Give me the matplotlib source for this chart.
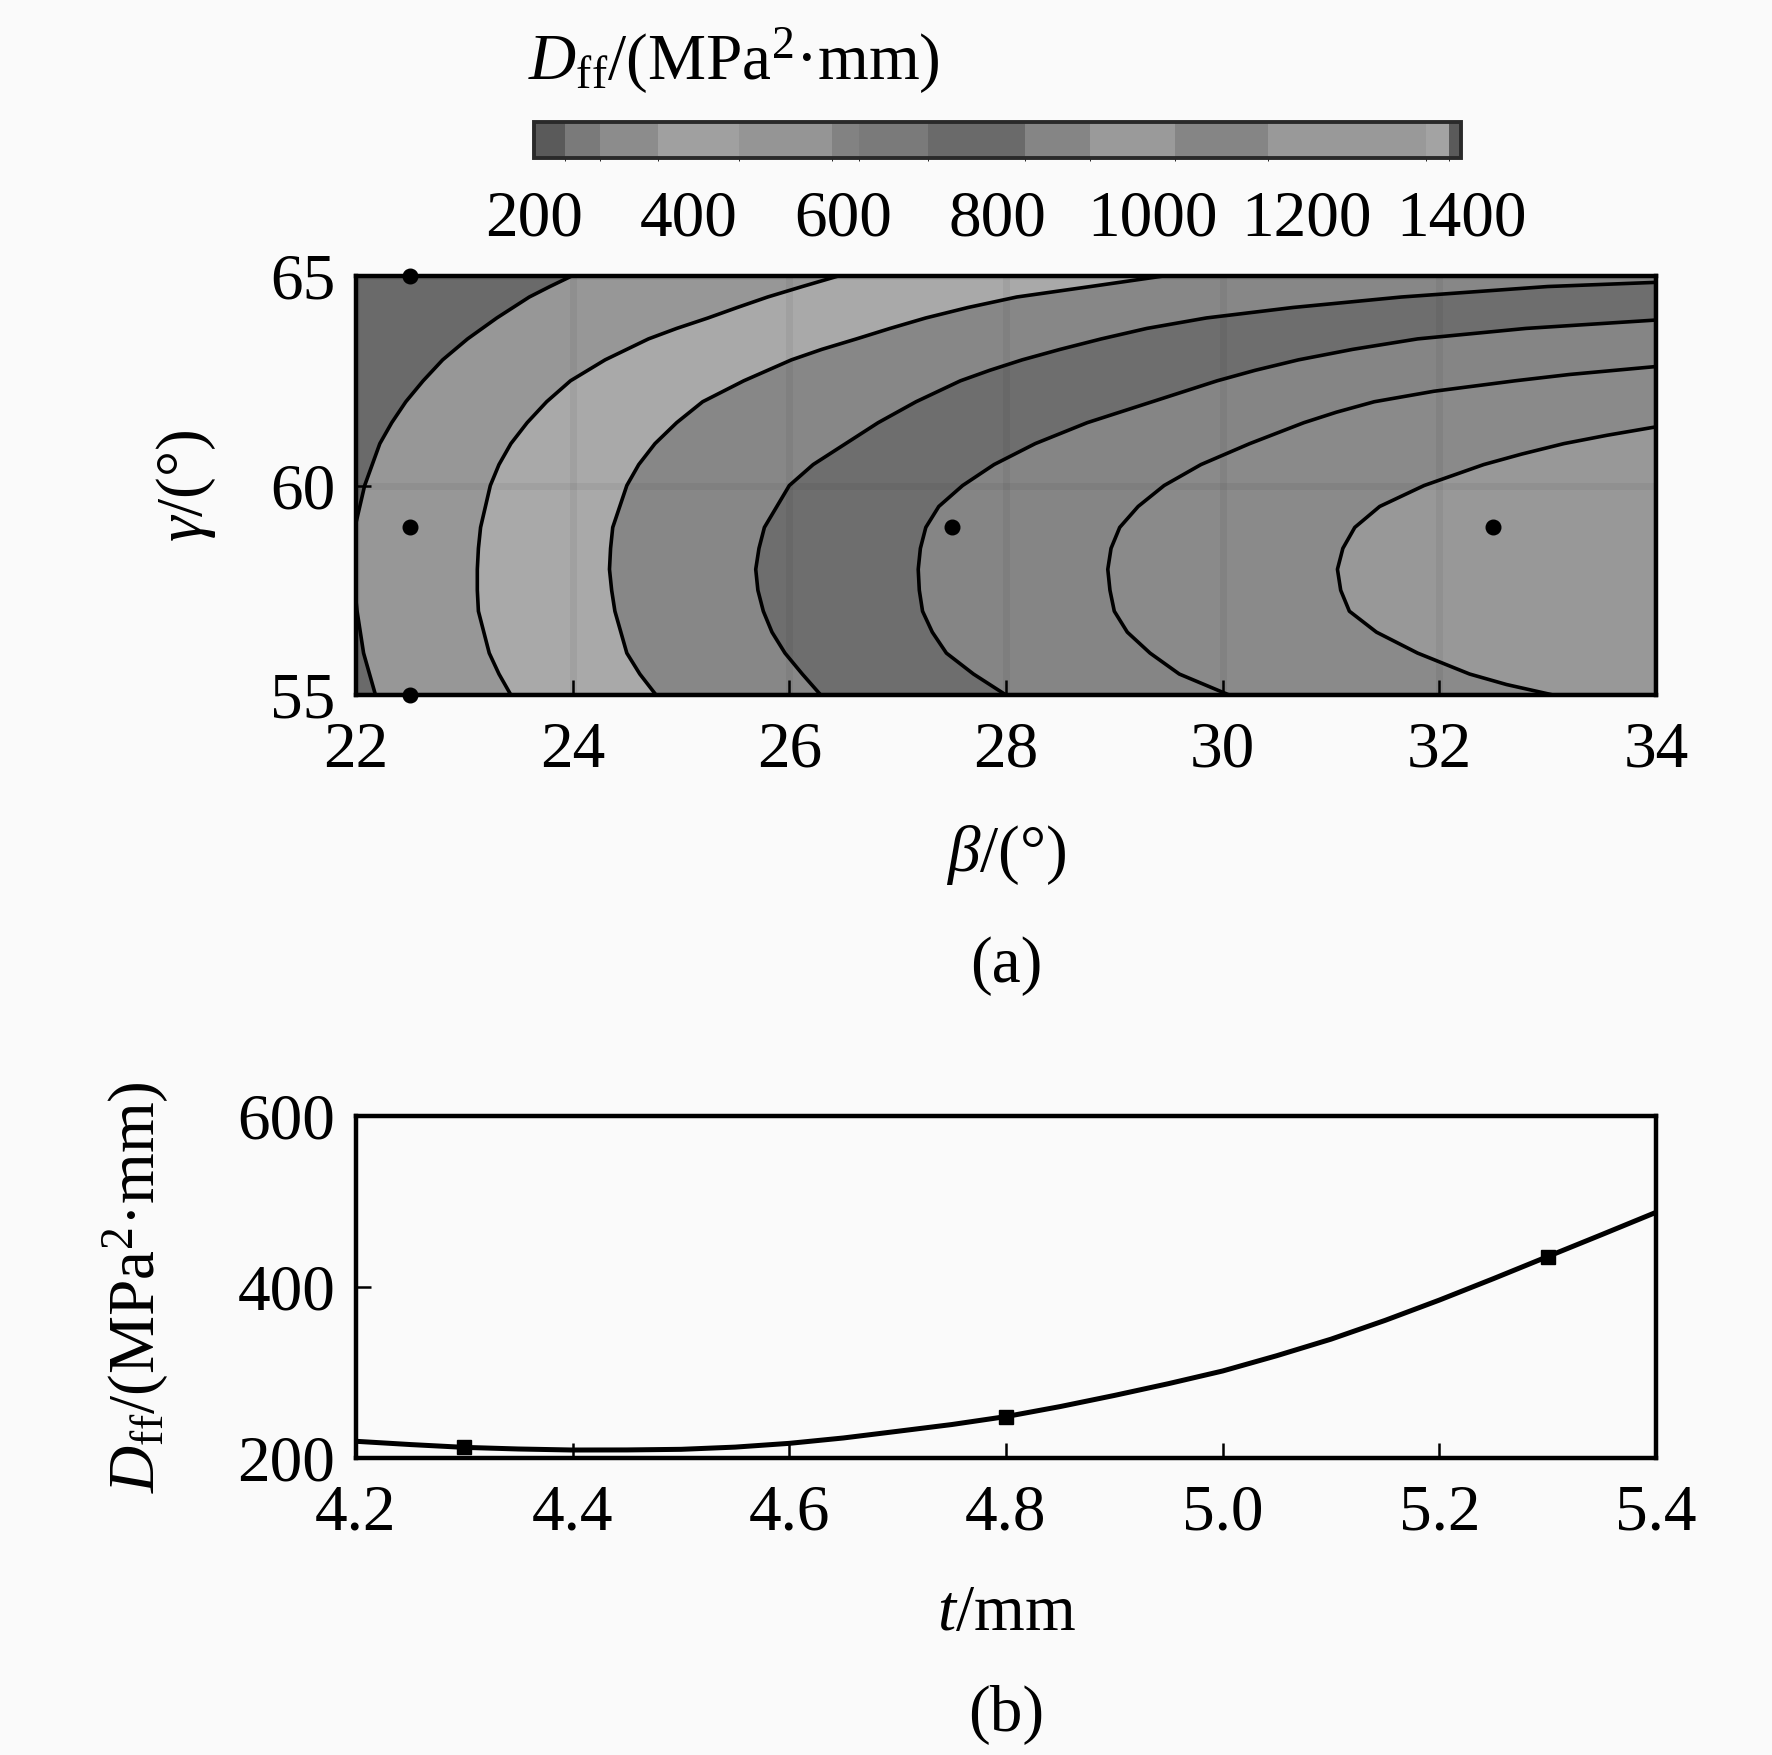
import matplotlib
matplotlib.use("Agg")
import matplotlib.pyplot as plt
from matplotlib.colors import ListedColormap, BoundaryNorm
from matplotlib.cm import ScalarMappable

plt.rcParams["font.family"] = "Liberation Serif"
plt.rcParams["mathtext.fontset"] = "custom"
plt.rcParams["mathtext.rm"] = "Liberation Serif"
plt.rcParams["mathtext.it"] = "Liberation Serif:italic"
plt.rcParams["mathtext.bf"] = "Liberation Serif:bold"

# ---- (a) contour lines of D_ff: beta at given gamma ----
a_gamma = [55, 56, 57, 57.5, 58, 58.5, 59, 60, 61, 61.5, 62, 62.5, 63, 63.5, 64, 64.25, 64.5, 64.75, 65]
a_beta = [22.18, 22.07, 22.01, 21.99, 21.98, 21.98, 21.99, 22.08, 22.22, 22.33, 22.46, 22.62, 22.80,
          23.03, 23.30, 23.45, 23.60, 23.79, 23.99]

b_gamma = [55, 55.5, 56, 57, 57.5, 58, 58.5, 59, 60, 60.5, 61, 61.5, 62, 62.5, 63, 63.5, 63.75, 64,
           64.25, 64.5, 64.75, 65]
b_beta = [23.43, 23.32, 23.23, 23.13, 23.12, 23.12, 23.13, 23.15, 23.24, 23.32, 23.43, 23.58, 23.76,
          23.98, 24.30, 24.70, 24.96, 25.25, 25.52, 25.80, 26.12, 26.45]

c_gamma = [55, 55.5, 56, 57, 57.5, 58, 58.5, 59, 60, 60.5, 61, 61.5, 62, 62.5, 63, 63.25, 63.5, 63.75,
           64, 64.25, 64.5, 64.75, 65]
c_beta = [24.77, 24.62, 24.50, 24.39, 24.36, 24.34, 24.35, 24.37, 24.50, 24.61, 24.76, 24.96, 25.20,
          25.58, 26.02, 26.30, 26.62, 26.93, 27.26, 27.65, 28.10, 28.78, 29.45]

d_gamma = [55, 55.5, 56, 56.5, 57, 57.5, 58, 58.5, 59, 60, 60.5, 61, 61.5, 62, 62.5, 62.75, 63, 63.25,
           63.5, 63.75, 64, 64.25, 64.5, 64.75, 64.85]
d_beta = [26.29, 26.12, 25.96, 25.84, 25.76, 25.71, 25.69, 25.72, 25.77, 26.00, 26.22, 26.52, 26.82,
          27.17, 27.58, 27.85, 28.15, 28.50, 28.88, 29.30, 29.85, 30.65, 31.65, 33.00, 34.00]

e_gamma = [55, 55.5, 56, 56.5, 57, 57.5, 58, 58.5, 59, 59.5, 60, 60.5, 61, 61.5, 62, 62.5, 62.75, 63,
           63.25, 63.5, 63.75, 63.95]
e_beta = [28.00, 27.70, 27.45, 27.32, 27.23, 27.20, 27.19, 27.21, 27.26, 27.38, 27.60, 27.89, 28.27,
          28.75, 29.35, 29.95, 30.30, 30.70, 31.20, 31.80, 32.80, 34.00]

f_gamma = [55, 55.5, 56, 56.5, 57, 57.5, 58, 58.5, 59, 59.5, 60, 60.5, 61, 61.5, 61.75, 62, 62.25,
           62.5, 62.65, 62.84]
f_beta = [30.06, 29.60, 29.33, 29.12, 29.00, 28.96, 28.94, 28.97, 29.05, 29.22, 29.46, 29.80, 30.25,
          30.75, 31.05, 31.40, 31.95, 32.70, 33.20, 34.00]

g_gamma = [55, 55.25, 55.5, 56, 56.5, 57, 57.5, 58, 58.5, 59, 59.5, 60, 60.5, 60.75, 61, 61.2, 61.4]
g_beta = [33.05, 32.62, 32.28, 31.80, 31.42, 31.17, 31.09, 31.06, 31.11, 31.22, 31.45, 31.86, 32.41,
          32.76, 33.15, 33.55, 34.00]

# design points marked with dots
design_beta = [22.5, 22.5, 22.5, 27.5, 32.5]
design_gamma = [55, 59, 65, 59, 59]

beta_ticks = [22, 24, 26, 28, 30, 32, 34]
gamma_ticks = [55, 60, 65]

# colour bar blocks (value bounds and grey of each block)
cbar_bounds = [200, 240, 285, 360, 465, 585, 620, 710, 835, 920, 1030, 1150, 1355, 1385, 1400]
cbar_greys = ["#5a5a5a", "#7a7a7a", "#8c8c8c", "#a0a0a0", "#959595", "#828282", "#7a7a7a",
              "#6a6a6a", "#858585", "#9a9a9a", "#858585", "#999999", "#a3a3a3", "#5a5a5a"]
cbar_ticks = [200, 400, 600, 800, 1000, 1200, 1400]

# ---- (b) D_ff versus t ----
t_line = [4.2, 4.25, 4.3, 4.35, 4.4, 4.45, 4.5, 4.55, 4.6, 4.65, 4.7, 4.75, 4.8, 4.85, 4.9, 4.95,
          5.0, 5.05, 5.1, 5.15, 5.2, 5.25, 5.3, 5.35, 5.4]
d_line = [219.6, 215.8, 212.5, 210.6, 209.4, 209.5, 210.2, 212.8, 217.2, 223.5, 231.3, 239.2, 248.5,
          260.2, 273.2, 287.0, 301.8, 319.7, 339.0, 361.0, 384.7, 409.8, 435.6, 461.3, 487.3]
t_points = [4.3, 4.8, 5.3]
d_points = [212.5, 248.5, 435.6]
t_ticks = [4.2, 4.4, 4.6, 4.8, 5.0, 5.2, 5.4]
d_ticks = [200, 400, 600]

curves = [
    (a_beta, a_gamma),
    (b_beta, b_gamma),
    (c_beta, c_gamma),
    (d_beta, d_gamma),
    (e_beta, e_gamma),
    (f_beta, f_gamma),
    (g_beta, g_gamma),
]
band_colors = ["#6a6a6a", "#979797", "#a9a9a9", "#878787", "#6e6e6e", "#858585", "#8a8a8a", "#989898"]

FS = 47
bg = "#fafafa"

fig = plt.figure(figsize=(17.72, 17.55), dpi=100, facecolor=bg)
ax0 = fig.add_axes([0.2009, 0.6040, 0.7336, 0.2387])
ax1 = fig.add_axes([0.2009, 0.1692, 0.7336, 0.1949])
cax = fig.add_axes([0.3016, 0.9100, 0.5229, 0.0205])

# contour map
ax0.set_xlim(beta_ticks[0], beta_ticks[-1])
ax0.set_ylim(gamma_ticks[0], gamma_ticks[-1])
ax0.set_facecolor(band_colors[0])
xmax = beta_ticks[-1]
for (bb, gg), col in zip(curves, band_colors[1:]):
    ax0.fill_betweenx(gg, bb, xmax, color=col, lw=0, zorder=1)
ax0.grid(True, color="k", alpha=0.05, lw=5)
for bb, gg in curves:
    ax0.plot(bb, gg, color="k", lw=2.6, zorder=3, solid_joinstyle="round")
ax0.plot(design_beta, design_gamma, "o", color="k", ms=10.5, clip_on=False, zorder=5)

ax0.set_xticks(beta_ticks)
ax0.set_yticks(gamma_ticks)
ax0.tick_params(axis="both", direction="in", length=11, width=1.8, labelsize=FS,
                top=False, right=False)
ax0.tick_params(axis="x", pad=19)
ax0.tick_params(axis="y", pad=15)
ax0.set_xlabel(r"$\beta$/(°)", fontsize=FS, va="center")
ax0.xaxis.set_label_coords(0.5, -0.382)
ax0.set_ylabel(r"$\gamma$/(°)", fontsize=FS, va="center")
ax0.yaxis.set_label_coords(-0.131, 0.5)

# colour bar
cmap = ListedColormap(cbar_greys)
norm = BoundaryNorm(cbar_bounds, cmap.N)
cbar = fig.colorbar(ScalarMappable(norm=norm, cmap=cmap), cax=cax,
                    orientation="horizontal", spacing="proportional", ticks=cbar_ticks)
cbar.ax.tick_params(length=0, labelsize=FS, pad=23)
cbar.outline.set_linewidth(2.8)
cbar.outline.set_edgecolor("#2a2a2a")
fig.text(0.298, 0.955, r"$D_{\rm ff}$/(MPa$^2$·mm)", fontsize=FS, ha="left", va="baseline")

# curve of D_ff versus t
ax1.set_facecolor(bg)
ax1.plot(t_line, d_line, color="k", lw=3.6, solid_joinstyle="round")
ax1.plot(t_points, d_points, "s", color="k", ms=10)
ax1.set_xlim(t_ticks[0], t_ticks[-1])
ax1.set_ylim(d_ticks[0], d_ticks[-1])
ax1.set_xticks(t_ticks)
ax1.set_xticklabels([f"{v:.1f}" for v in t_ticks])
ax1.set_yticks(d_ticks)
ax1.tick_params(axis="both", direction="in", length=11, width=1.8, labelsize=FS,
                top=False, right=False)
ax1.tick_params(axis="x", pad=19)
ax1.tick_params(axis="y", pad=15)
ax1.set_xlabel(r"$t$/mm", fontsize=FS, va="center")
ax1.xaxis.set_label_coords(0.5, -0.456)
ax1.set_ylabel(r"$D_{\rm ff}$/(MPa$^2$·mm)", fontsize=FS, va="center")
ax1.yaxis.set_label_coords(-0.1696, 0.5)

for ax in (ax0, ax1):
    for sp in ax.spines.values():
        sp.set_linewidth(3.2)

fig.text(0.5677, 0.4496, "(a)", fontsize=FS, ha="center", va="center")
fig.text(0.5677, 0.0228, "(b)", fontsize=FS, ha="center", va="center")

fig.savefig("out.png", dpi=100, facecolor=fig.get_facecolor())
